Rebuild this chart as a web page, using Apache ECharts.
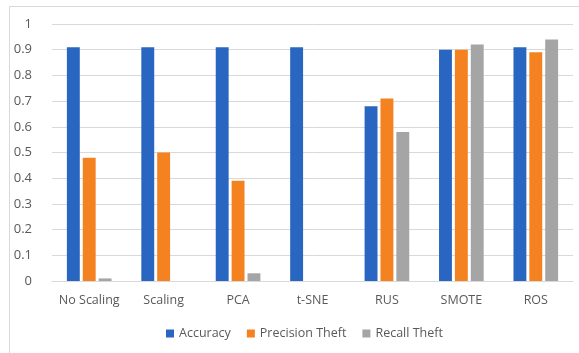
<!DOCTYPE html>
<html>
<head>
<meta charset="utf-8">
<script src="https://cdn.jsdelivr.net/npm/echarts@6/dist/echarts.min.js"></script>
<style>
  html, body { margin: 0; padding: 0; background: #fff; }
  #chart { width: 579px; height: 353px; }
</style>
</head>
<body>
<div id="chart"></div>
<script>
var categories = ['No Scaling', 'Scaling', 'PCA', 't-SNE', 'RUS', 'SMOTE', 'ROS'];
var accuracy = [0.91, 0.91, 0.91, 0.91, 0.68, 0.90, 0.91];
var precisionTheft = [0.48, 0.50, 0.39, 0, 0.71, 0.90, 0.89];
var recallTheft = [0.01, 0, 0.03, 0, 0.58, 0.92, 0.94];

var chart = echarts.init(document.getElementById('chart'));
var fontFam = 'Open Sans, Calibri, sans-serif';

function barSeries(name, data, color) {
  return {
    name: name,
    type: 'bar',
    data: data,
    barGap: '23%',
    barCategoryGap: '40%',
    itemStyle: { color: color },
    emphasis: { disabled: true }
  };
}

var option = {
  animation: false,
  textStyle: { fontFamily: fontFam },
  graphic: [{
    type: 'rect',
    shape: { x: 9.5, y: 6.5, width: 575, height: 352 },
    style: { fill: null, stroke: '#d9d9d9', lineWidth: 1 },
    z: -1
  }],
  grid: { left: 52, right: 6, top: 24, bottom: 72 },
  legend: {
    bottom: 8,
    left: 161,
    itemWidth: 8,
    itemHeight: 8,
    itemGap: 16,
    icon: 'rect',
    textStyle: { color: '#595959', fontSize: 12.5, fontFamily: fontFam },
    data: ['Accuracy', 'Precision Theft', 'Recall Theft']
  },
  xAxis: {
    type: 'category',
    data: categories,
    axisLine: { lineStyle: { color: '#d9d9d9', width: 1 } },
    axisTick: { show: false },
    axisLabel: { color: '#595959', fontSize: 12.5, margin: 13, interval: 0 }
  },
  yAxis: {
    type: 'value',
    min: 0,
    max: 1,
    interval: 0.1,
    axisLine: { show: false },
    axisTick: { show: false },
    axisLabel: { color: '#595959', fontSize: 13, margin: 20 },
    splitLine: { lineStyle: { color: '#d9d9d9', width: 1 } }
  },
  series: [
    barSeries('Accuracy', accuracy, '#2966c1'),
    barSeries('Precision Theft', precisionTheft, '#f58220'),
    barSeries('Recall Theft', recallTheft, '#a5a5a5')
  ]
};
chart.setOption(option);
</script>
</body>
</html>
